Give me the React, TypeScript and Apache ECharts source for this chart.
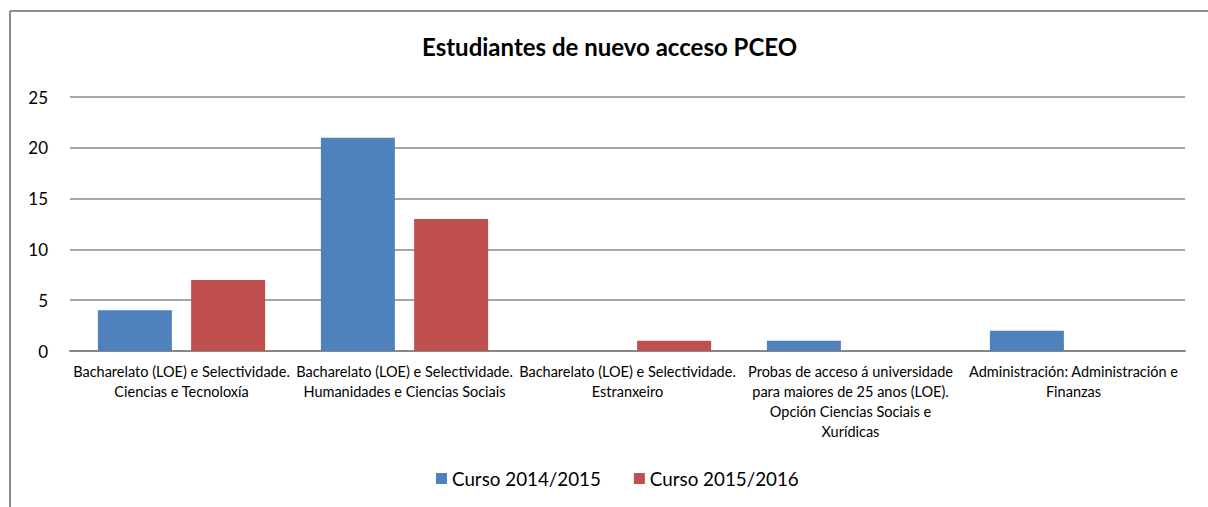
import React, { useEffect, useRef } from "react";
import * as echarts from "echarts";

const categories = [
  "Bacharelato (LOE) e Selectividade.\nCiencias e Tecnoloxía",
  "Bacharelato (LOE) e Selectividade.\nHumanidades e Ciencias Sociais",
  "Bacharelato (LOE) e Selectividade.\nEstranxeiro",
  "Probas de acceso á universidade\npara maiores de 25 anos (LOE).\nOpción Ciencias Sociais e\nXurídicas",
  "Administración: Administración e\nFinanzas",
];
const seriesNames = ["Curso 2014/2015", "Curso 2015/2016"];
const values2014 = [4, 21, 0, 1, 2];
const values2015 = [7, 13, 1, 0, 0];
const yTicks = [0, 5, 10, 15, 20, 25];

const FONT = "Lato";

export default function App() {
  const ref = useRef<HTMLDivElement>(null);
  useEffect(() => {
    document.body.style.margin = "0";
    const chart = echarts.init(ref.current!, null, { renderer: "svg" });
    chart.setOption({
      animation: false,
      backgroundColor: "#ffffff",
      title: {
        text: "Estudiantes de nuevo acceso PCEO",
        left: 422,
        top: 34,
        padding: 0,
        textStyle: { fontFamily: FONT, fontSize: 24, fontWeight: "bold", color: "#000" },
      },
      legend: {
        top: 464,
        left: 431,
        itemWidth: 11,
        itemHeight: 11,
        itemGap: 33,
        icon: "rect",
        textStyle: { fontFamily: FONT, fontSize: 18.8, color: "#000" },
        data: seriesNames,
      },
      grid: { left: 70, right: 23, top: 97, bottom: 156, containLabel: false },
      xAxis: {
        type: "category",
        data: categories,
        axisLine: { lineStyle: { color: "#888", width: 2 } },
        axisTick: { show: false },
        axisLabel: {
          interval: 0,
          margin: 10,
          fontFamily: FONT,
          fontSize: 14.5,
          lineHeight: 20,
          color: "#000",
        },
      },
      yAxis: {
        type: "value",
        min: yTicks[0],
        max: yTicks[yTicks.length - 1],
        interval: 5,
        axisLine: { show: false },
        axisTick: { show: false },
        splitLine: { lineStyle: { color: "#888", width: 1.5 } },
        axisLabel: { fontFamily: FONT, fontSize: 17, color: "#000", margin: 22 },
      },
      series: [
        {
          name: seriesNames[0],
          type: "bar",
          data: values2014,
          barWidth: 74,
          barGap: "26%",
          itemStyle: { color: "#4F81BD" },
        },
        {
          name: seriesNames[1],
          type: "bar",
          data: values2015,
          barWidth: 74,
          barGap: "26%",
          itemStyle: { color: "#C0504D" },
        },
      ],
      graphic: [
        { type: "line", shape: { x1: 10, y1: 11, x2: 1208, y2: 11 }, style: { stroke: "#8c8c8c", lineWidth: 2 } },
        { type: "line", shape: { x1: 10, y1: 11, x2: 10, y2: 507 }, style: { stroke: "#8c8c8c", lineWidth: 2 } },
      ],
    });
    return () => chart.dispose();
  }, []);
  return <div ref={ref} style={{ width: 1208, height: 507 }} />;
}
